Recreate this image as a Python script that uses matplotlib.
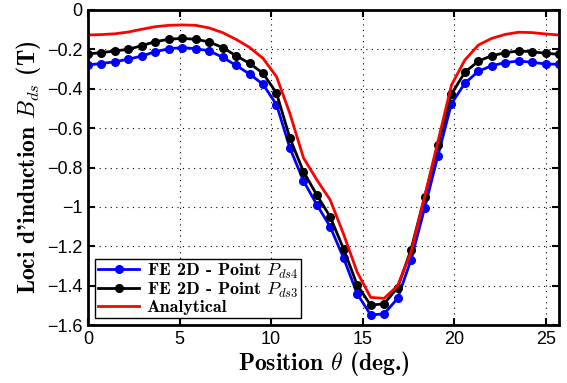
import matplotlib
matplotlib.use("Agg")
import matplotlib.pyplot as plt
from matplotlib.ticker import FuncFormatter

plt.rcParams['mathtext.fontset'] = 'cm'

# rotor position (deg.)
theta = [0.00, 0.73, 1.47, 2.20, 2.94, 3.67, 4.41, 5.14, 5.88, 6.61, 7.35, 8.08,
         8.82, 9.55, 10.29, 11.02, 11.76, 12.49, 13.22, 13.96, 14.69, 15.43, 16.16, 16.90,
         17.63, 18.37, 19.10, 19.84, 20.57, 21.31, 22.04, 22.78, 23.51, 24.24, 24.98, 25.71]

# FE 2D - point Pds4
b_ds4 = [-0.279, -0.272, -0.263, -0.250, -0.234, -0.212, -0.197, -0.191, -0.197, -0.207,
         -0.240, -0.281, -0.325, -0.377, -0.480, -0.700, -0.867, -0.988, -1.100, -1.261,
         -1.440, -1.548, -1.543, -1.464, -1.269, -1.007, -0.740, -0.475, -0.372, -0.311,
         -0.283, -0.267, -0.259, -0.266, -0.274, -0.276]

# FE 2D - point Pds3
b_ds3 = [-0.223, -0.217, -0.208, -0.200, -0.181, -0.161, -0.149, -0.144, -0.149, -0.162,
         -0.191, -0.232, -0.271, -0.321, -0.421, -0.650, -0.820, -0.939, -1.050, -1.215,
         -1.395, -1.499, -1.491, -1.410, -1.217, -0.950, -0.684, -0.427, -0.316, -0.260,
         -0.232, -0.217, -0.208, -0.212, -0.220, -0.225]

# analytical model
b_ana = [-0.127, -0.125, -0.121, -0.112, -0.098, -0.085, -0.078, -0.076, -0.078, -0.091,
         -0.115, -0.149, -0.190, -0.245, -0.338, -0.525, -0.750, -0.862, -0.964, -1.140,
         -1.330, -1.459, -1.464, -1.400, -1.230, -0.950, -0.668, -0.381, -0.254, -0.178,
         -0.144, -0.124, -0.113, -0.115, -0.122, -0.127]

xticks = [0, 5, 10, 15, 20, 25]
yticks = [0, -0.2, -0.4, -0.6, -0.8, -1, -1.2, -1.4, -1.6]

fig = plt.figure(figsize=(5.67, 3.83), dpi=100)
ax = fig.add_axes([0.155, 0.151, 0.831, 0.823])

ax.plot(theta, b_ds4, '-o', color='#0000ff', lw=2, ms=5.5, label=r'FE 2D - Point $P_{ds4}$')
ax.plot(theta, b_ds3, '-o', color='black', lw=2, ms=5.5, label=r'FE 2D - Point $P_{ds3}$')
ax.plot(theta, b_ana, '-', color='#ff0000', lw=2, label='Analytical')

ax.set_xlim(0, 25.71)
ax.set_ylim(-1.6, 0)
ax.set_xticks(xticks)
ax.set_yticks(yticks)
ax.yaxis.set_major_formatter(FuncFormatter(lambda v, p: ('%g' % v).replace('-', '\u2212')))
ax.grid(True, linestyle=(0, (1, 4)), color='black', lw=0.8)
ax.tick_params(direction='in', top=True, right=True, length=5, width=1.5, labelsize=13, pad=4)
for lab in ax.get_xticklabels() + ax.get_yticklabels():
    lab.set_fontfamily('Liberation Sans')
for sp in ax.spines.values():
    sp.set_linewidth(2)

ax.set_xlabel(r'Position $\theta$ (deg.)', fontsize=17, fontfamily='cmb10', labelpad=1)
ax.set_ylabel("Loci d'induction $B_{ds}$ (T)", fontsize=17, fontfamily='cmb10', labelpad=3)

leg = ax.legend(loc='lower left', prop={'family': 'cmb10', 'size': 13}, fancybox=False,
                edgecolor='black', framealpha=1, borderpad=0.15, labelspacing=0.0,
                handlelength=2.3, handletextpad=0.4, borderaxespad=0.4)
leg.get_frame().set_linewidth(1)

fig.savefig('out.png', dpi=100)
